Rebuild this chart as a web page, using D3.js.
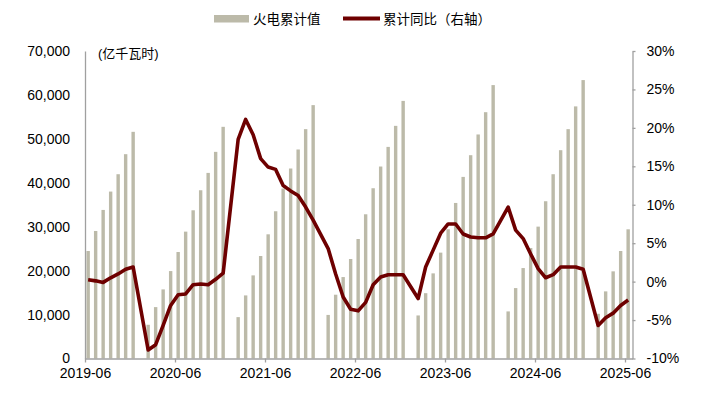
<!DOCTYPE html>
<html>
<head>
<meta charset="utf-8">
<script src="https://cdn.jsdelivr.net/npm/d3@7"></script>
<style>
  body { margin: 0; background: #fff; }
  text { font-family: "Liberation Sans", Arial, "Noto Sans CJK SC", sans-serif; fill: #000; }
</style>
</head>
<body>
<div id="chart"></div>
<script>
// Months 2019-06 .. 2025-06 (January has no data: Jan-Feb reported together)
const months = d3.timeMonths(new Date(2019, 5, 1), new Date(2025, 6, 1));

// 火电累计值 (亿千瓦时)
const thermalCum = [
  24470, 29030, 33820, 38000, 41950, 46510, 51600,
  null, 7680, 11700, 15730, 19900, 24240, 28880, 33740, 38300, 42250, 47040, 52740,
  null, 9420, 14360, 18920, 23330, 28270, 33520, 38690, 43250, 47580, 52210, 57680,
  null, 9920, 14520, 18540, 22650, 27200, 32830, 38760, 43700, 48170, 52960, 58640,
  null, 9800, 14870, 19380, 24100, 29410, 35410, 41340, 46280, 51000, 56070, 62240,
  null, 10720, 16030, 20590, 25150, 30020, 35800, 41950, 47420, 52210, 57390, 63380,
  null, 10180, 15280, 19840, 24470, 29410
];

// 累计同比 (%)
const yoyCum = [
  0.25, 0.1, -0.1, 0.5, 1.0, 1.6, 1.9,
  null, -8.9, -8.2, -5.7, -3.1, -1.7, -1.6, -0.4, -0.3, -0.4, 0.3, 1.1,
  null, 18.5, 21.1, 19.1, 16.0, 14.9, 14.6, 12.5, 11.8, 11.2, 9.7, 8.0,
  null, 4.3, 1.0, -2.0, -3.6, -3.8, -2.7, -0.4, 0.6, 0.9, 0.9, 0.9,
  null, -2.2, 1.9, 4.1, 6.3, 7.5, 7.5, 6.2, 5.8, 5.7, 5.7, 6.2,
  null, 9.7, 6.7, 5.6, 3.6, 1.7, 0.5, 0.9, 1.9, 1.9, 1.9, 1.6,
  null, -5.7, -4.7, -4.1, -3.1, -2.4
];

const xTickIdx = [0, 12, 24, 36, 48, 60, 72];
const xTickLabels = ["2019-06", "2020-06", "2021-06", "2022-06", "2023-06", "2024-06", "2025-06"];
const leftTicks = [0, 10000, 20000, 30000, 40000, 50000, 60000, 70000];
const rightTicks = [-10, -5, 0, 5, 10, 15, 20, 25, 30];

const width = 711;
const height = 394;
const margin = { top: 51, right: 78.5, bottom: 35.5, left: 85 };

const barColor = "#bcbaa9";
const lineColor = "#6e0000";
const axisColor = "#a0a0a0";

const svg = d3.select("#chart").append("svg")
  .attr("width", width)
  .attr("height", height);

// Scales
const x = d3.scaleLinear()
  .domain([0, months.length])
  .range([margin.left, width - margin.right]);
const step = x(1) - x(0);

const yL = d3.scaleLinear()
  .domain([0, 70000])
  .range([height - margin.bottom, margin.top]);

const yR = d3.scaleLinear()
  .domain([-10, 30])
  .range([height - margin.bottom, margin.top]);

const data = months.map((m, i) => ({ i, m, v: thermalCum[i], r: yoyCum[i] }));

// Bars
const barW = 3.4;
svg.append("g")
  .selectAll("rect")
  .data(data.filter(d => d.v != null))
  .enter()
  .append("rect")
    .attr("x", d => x(d.i) + step / 2 - barW / 2 - 0.6)
    .attr("y", d => yL(d.v))
    .attr("width", barW)
    .attr("height", d => yL(0) - yL(d.v))
    .attr("fill", barColor);

// Axes
const gLeft = svg.append("g")
  .attr("transform", `translate(${margin.left},0)`)
  .call(d3.axisLeft(yL).tickValues(leftTicks).tickFormat(d3.format(",")).tickSize(0).tickPadding(15));

const gRight = svg.append("g")
  .attr("transform", `translate(${width - margin.right},0)`)
  .call(d3.axisRight(yR).tickValues(rightTicks).tickFormat(d => d + "%").tickSizeInner(3).tickSizeOuter(0).tickPadding(11));

const gBottom = svg.append("g")
  .attr("transform", `translate(0,${height - margin.bottom})`)
  .call(d3.axisBottom(x).tickValues(xTickIdx).tickFormat((d, i) => xTickLabels[i]).tickSizeInner(4).tickSizeOuter(0).tickPadding(6));

[gLeft, gRight, gBottom].forEach(g => {
  g.select(".domain").attr("stroke", axisColor).attr("stroke-width", 1.3);
  g.selectAll(".tick line").attr("stroke", axisColor).attr("stroke-width", 1.3);
  g.selectAll(".tick text").attr("font-size", 14).attr("fill", "#000")
    .style("font-family", "'Liberation Sans', Arial, sans-serif");
});

// Line (gaps for January are bridged, as in the source chart)
const line = d3.line()
  .x(d => x(d.i) + step / 2 - 0.6)
  .y(d => yR(d.r));

svg.append("path")
  .datum(data.filter(d => d.r != null))
  .attr("fill", "none")
  .attr("stroke", lineColor)
  .attr("stroke-width", 3.6)
  .attr("stroke-linejoin", "round")
  .attr("d", line);

// Unit label
svg.append("text")
  .attr("x", 98)
  .attr("y", 58)
  .attr("font-size", 13)
  .text("(亿千瓦时)");

// Legend
const legend = svg.append("g");
legend.append("rect")
  .attr("x", 214).attr("y", 15)
  .attr("width", 35).attr("height", 7.5)
  .attr("fill", barColor);
legend.append("text")
  .attr("x", 253).attr("y", 24)
  .attr("font-size", 13.5)
  .text("火电累计值");
legend.append("line")
  .attr("x1", 343).attr("x2", 380)
  .attr("y1", 18.5).attr("y2", 18.5)
  .attr("stroke", lineColor)
  .attr("stroke-width", 4);
legend.append("text")
  .attr("x", 383).attr("y", 24)
  .attr("font-size", 13.5)
  .text("累计同比（右轴）");
</script>
</body>
</html>
